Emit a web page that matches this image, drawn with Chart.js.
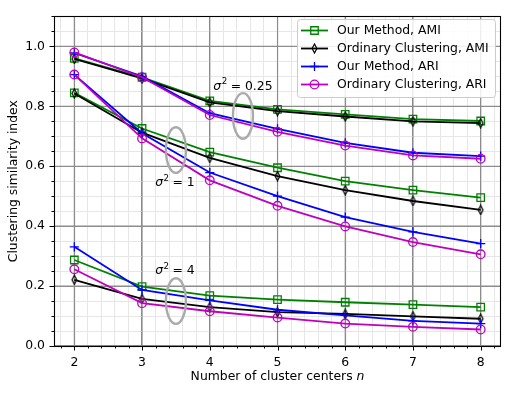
<!DOCTYPE html>
<html><head><meta charset="utf-8">
<script src="https://cdn.jsdelivr.net/npm/chart.js@4/dist/chart.umd.min.js"></script>
<style>html,body{margin:0;padding:0;background:#fff}</style>
</head><body>
<canvas id="c" width="515" height="393" style="width:515px;height:393px;display:block"></canvas>
<script>
// ---- data ----
const nValues = [2, 3, 4, 5, 6, 7, 8];
const seriesLabels = ['Our Method, AMI', 'Ordinary Clustering, AMI', 'Our Method, ARI', 'Ordinary Clustering, ARI'];
// sigma^2 = 0.25
const ourAMI_025 = [0.960, 0.897, 0.818, 0.790, 0.773, 0.757, 0.751];
const ordAMI_025 = [0.958, 0.893, 0.813, 0.784, 0.766, 0.750, 0.744];
const ourARI_025 = [0.978, 0.900, 0.777, 0.725, 0.678, 0.645, 0.634];
const ordARI_025 = [0.980, 0.897, 0.771, 0.715, 0.669, 0.636, 0.625];
// sigma^2 = 1
const ourAMI_1 = [0.845, 0.726, 0.647, 0.595, 0.550, 0.520, 0.495];
const ordAMI_1 = [0.843, 0.712, 0.628, 0.567, 0.520, 0.484, 0.454];
const ourARI_1 = [0.906, 0.710, 0.579, 0.500, 0.430, 0.381, 0.342];
const ordARI_1 = [0.906, 0.693, 0.553, 0.468, 0.399, 0.347, 0.306];
// sigma^2 = 4
const ourAMI_4 = [0.287, 0.198, 0.168, 0.155, 0.146, 0.138, 0.130];
const ordAMI_4 = [0.221, 0.157, 0.130, 0.113, 0.107, 0.099, 0.091];
const ourARI_4 = [0.331, 0.187, 0.152, 0.121, 0.102, 0.084, 0.075];
const ordARI_4 = [0.256, 0.143, 0.116, 0.095, 0.075, 0.064, 0.055];
// tick values
const xTickValues = []; for (let k = 9; k <= 41; k++) xTickValues.push(k / 5);
const yTickValues = []; for (let k = 0; k <= 22; k++) yTickValues.push(k / 20);
// annotations (data coordinates)
const sigmaLabels = [{v: '0.25', x: 4.49, y: 0.871}, {v: '1', x: 3.485, y: 0.548}, {v: '4', x: 3.485, y: 0.254}];
const ellipseCenters = [{x: 4.49, y: 0.768}, {x: 3.5, y: 0.654}, {x: 3.5, y: 0.150}];

// ---- styles ----
const FONT = '"DejaVu Sans", "Liberation Sans", sans-serif';
const FS = 12.4;
function thinDiamond() {
  const c = document.createElement('canvas');
  c.width = 9; c.height = 11;
  const g = c.getContext('2d');
  g.strokeStyle = '#000'; g.lineWidth = 1.2;
  g.beginPath();
  g.moveTo(4.5, 1.0); g.lineTo(6.9, 5.5); g.lineTo(4.5, 10.0); g.lineTo(2.1, 5.5); g.closePath();
  g.stroke();
  return c;
}
const diamondImg = thinDiamond();
const styles = [
  {color: '#008000', pointStyle: 'rect', radius: 5.3, order: 4},
  {color: '#000000', pointStyle: diamondImg, radius: 5, order: 3},
  {color: '#0000ff', pointStyle: 'cross', radius: 4.6, order: 2},
  {color: '#bf00bf', pointStyle: 'circle', radius: 4.3, order: 1}
];
const groups = [
  [ourAMI_025, ourAMI_1, ourAMI_4],
  [ordAMI_025, ordAMI_1, ordAMI_4],
  [ourARI_025, ourARI_1, ourARI_4],
  [ordARI_025, ordARI_1, ordARI_4]
];
const datasets = [];
groups.forEach((arrs, m) => {
  arrs.forEach(arr => {
    const st = styles[m];
    datasets.push({
      label: seriesLabels[m],
      data: nValues.map((n, i) => ({x: n, y: arr[i]})),
      borderColor: st.color,
      backgroundColor: 'rgba(0,0,0,0)',
      pointBorderColor: st.color,
      pointBackgroundColor: 'rgba(0,0,0,0)',
      pointStyle: st.pointStyle,
      pointRadius: st.radius,
      pointBorderWidth: 1.3,
      borderWidth: 1.8,
      tension: 0,
      order: st.order
    });
  });
});

const isMajorX = v => Math.abs(v - Math.round(v)) < 1e-6;
const isMajorY = v => Math.abs(v * 5 - Math.round(v * 5)) < 1e-6;

function drawSigma(ctx, cx, cy, value) {
  const f1 = `italic ${FS}px ${FONT}`, f2 = `${FS * 0.7}px ${FONT}`, f3 = `${FS}px ${FONT}`;
  const rest = ' = ' + value;
  ctx.font = f1; const w1 = ctx.measureText('σ').width;
  ctx.font = f2; const w2 = ctx.measureText('2').width;
  ctx.font = f3; const w3 = ctx.measureText(rest).width;
  let x = cx - (w1 + w2 + w3) / 2;
  const base = cy + FS * 0.36;
  ctx.fillStyle = '#000'; ctx.textBaseline = 'alphabetic'; ctx.textAlign = 'left';
  ctx.font = f1; ctx.fillText('σ', x, base); x += w1 + 0.5;
  ctx.font = f2; ctx.fillText('2', x, base - FS * 0.42); x += w2 - 0.5;
  ctx.font = f3; ctx.fillText(rest, x, base);
}

const decor = {
  id: 'decor',
  beforeDatasetsDraw(chart) {
    // redraw major grid lines over the minor ones
    const ctx = chart.ctx, a = chart.chartArea, xs = chart.scales.x, ys = chart.scales.y;
    ctx.save();
    ctx.strokeStyle = '#8c8c8c'; ctx.lineWidth = 1.1;
    xTickValues.filter(isMajorX).forEach(v => {
      const px = xs.getPixelForValue(v);
      ctx.beginPath(); ctx.moveTo(px, a.top); ctx.lineTo(px, a.bottom); ctx.stroke();
    });
    yTickValues.filter(isMajorY).forEach(v => {
      const py = ys.getPixelForValue(v);
      ctx.beginPath(); ctx.moveTo(a.left, py); ctx.lineTo(a.right, py); ctx.stroke();
    });
    ctx.restore();
  },
  afterDatasetsDraw(chart) {
    const ctx = chart.ctx, a = chart.chartArea, xs = chart.scales.x, ys = chart.scales.y;
    ctx.save();
    // ellipses
    ctx.strokeStyle = '#aaaaaa'; ctx.lineWidth = 2.4;
    ellipseCenters.forEach(e => {
      ctx.beginPath();
      ctx.ellipse(xs.getPixelForValue(e.x), ys.getPixelForValue(e.y), 10, 22.8, 0, 0, Math.PI * 2);
      ctx.stroke();
    });
    sigmaLabels.forEach(l => drawSigma(ctx, xs.getPixelForValue(l.x), ys.getPixelForValue(l.y), l.v));
    // frame
    ctx.strokeStyle = '#000'; ctx.lineWidth = 1.1;
    ctx.strokeRect(Math.round(a.left) + 0.5, Math.round(a.top) + 0.5, Math.round(a.right - a.left) - 1, Math.round(a.bottom - a.top));
    // tick marks
    ctx.lineWidth = 1;
    xTickValues.forEach(v => {
      const px = Math.round(xs.getPixelForValue(v)) + 0.5, len = isMajorX(v) ? 4.5 : 2.5;
      ctx.beginPath(); ctx.moveTo(px, a.bottom); ctx.lineTo(px, a.bottom + len); ctx.stroke();
    });
    yTickValues.forEach(v => {
      const py = Math.round(ys.getPixelForValue(v)) + 0.5, len = isMajorY(v) ? 4.5 : 2.5;
      ctx.beginPath(); ctx.moveTo(a.left, py); ctx.lineTo(a.left - len, py); ctx.stroke();
    });
    // axis titles
    ctx.fillStyle = '#000'; ctx.textBaseline = 'middle';
    const t1 = 'Number of cluster centers ', t2 = 'n';
    ctx.font = `${FS}px ${FONT}`; const w1 = ctx.measureText(t1).width;
    ctx.font = `italic ${FS}px ${FONT}`; const w2 = ctx.measureText(t2).width;
    let tx = (a.left + a.right) / 2 - (w1 + w2) / 2;
    ctx.textAlign = 'left';
    ctx.font = `${FS}px ${FONT}`; ctx.fillText(t1, tx, 377);
    ctx.font = `italic ${FS}px ${FONT}`; ctx.fillText(t2, tx + w1, 377);
    ctx.save();
    ctx.translate(13.5, (a.top + a.bottom) / 2); ctx.rotate(-Math.PI / 2);
    ctx.textAlign = 'center'; ctx.font = `${FS}px ${FONT}`;
    ctx.fillText('Clustering similarity index', 0, 0);
    ctx.restore();
    // legend
    const bx = 297, by = 19, bw = 198, bh = 78, r = 3;
    ctx.beginPath();
    ctx.roundRect(bx + 0.5, by + 0.5, bw, bh, r);
    ctx.fillStyle = 'rgba(255,255,255,0.85)'; ctx.fill();
    ctx.strokeStyle = '#cccccc'; ctx.lineWidth = 1; ctx.stroke();
    seriesLabels.forEach((lab, i) => {
      const st = styles[i], y = 30.5 + i * 18;
      ctx.strokeStyle = st.color; ctx.lineWidth = 1.8;
      ctx.beginPath(); ctx.moveTo(301, y); ctx.lineTo(328, y); ctx.stroke();
      ctx.lineWidth = 1.3; ctx.fillStyle = 'rgba(0,0,0,0)';
      Chart.helpers.drawPoint(ctx, {pointStyle: st.pointStyle, radius: st.radius, rotation: 0, borderWidth: 1.3}, 314.5, y);
      ctx.fillStyle = '#000'; ctx.font = `${FS}px ${FONT}`; ctx.textAlign = 'left'; ctx.textBaseline = 'middle';
      ctx.fillText(lab, 337, y);
    });
    ctx.restore();
  }
};

new Chart(document.getElementById('c'), {
  type: 'line',
  data: {datasets},
  plugins: [decor],
  options: {
    responsive: false, animation: false, devicePixelRatio: 1, events: [],
    layout: {padding: {left: 0, right: 14, top: 13, bottom: 0}},
    plugins: {legend: {display: false}, tooltip: {enabled: false}},
    scales: {
      x: {
        type: 'linear', min: 1.7, max: 8.3,
        afterBuildTicks: s => { s.ticks = xTickValues.map(v => ({value: v})); },
        afterFit: s => { s.height = 47; },
        border: {display: false},
        grid: {drawTicks: false, color: c => isMajorX(c.tick.value) ? '#8c8c8c' : '#e6e6e6', lineWidth: c => isMajorX(c.tick.value) ? 1.1 : 1},
        ticks: {autoSkip: false, maxRotation: 0, padding: 9, color: '#000', font: {family: FONT, size: FS},
          callback: v => isMajorX(v) ? String(Math.round(v)) : ''}
      },
      y: {
        type: 'linear', min: 0, max: 1.1,
        afterBuildTicks: s => { s.ticks = yTickValues.map(v => ({value: v})); },
        afterFit: s => { s.width = 54; },
        border: {display: false},
        grid: {drawTicks: false, color: c => isMajorY(c.tick.value) ? '#8c8c8c' : '#e6e6e6', lineWidth: c => isMajorY(c.tick.value) ? 1.1 : 1},
        ticks: {autoSkip: false, padding: 9, color: '#000', font: {family: FONT, size: FS},
          callback: v => isMajorY(v) ? v.toFixed(1) : ''}
      }
    }
  }
});
</script>
</body></html>
